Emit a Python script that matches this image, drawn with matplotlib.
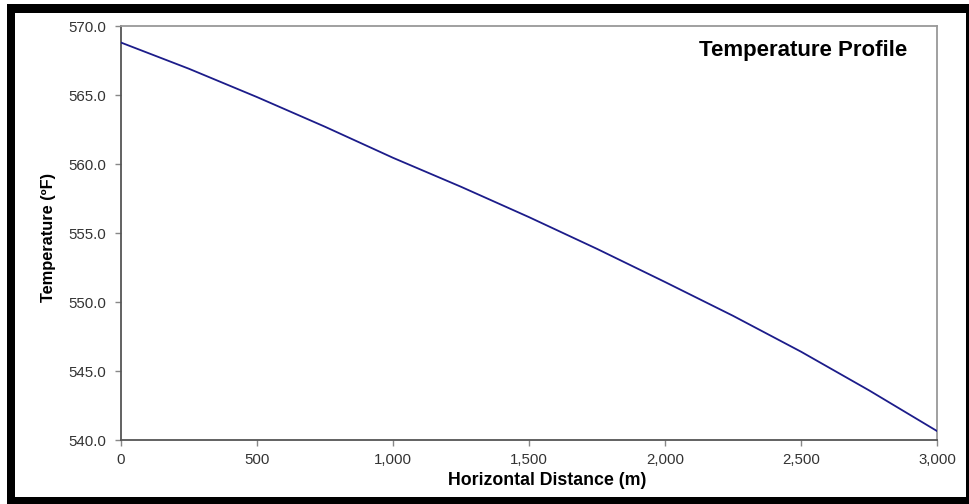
import matplotlib
matplotlib.use("Agg")
import matplotlib.pyplot as plt
from matplotlib.patches import Rectangle

# ---------- data ----------
distance_m = [0, 250, 500, 750, 1000, 1250, 1500, 1750, 2000, 2250, 2500, 2750, 3000]
temp_F = [568.8, 566.9, 564.85, 562.7, 560.45, 558.35, 556.15, 553.85, 551.45,
          549.0, 546.4, 543.6, 540.65]
x_ticks = [0, 500, 1000, 1500, 2000, 2500, 3000]
y_ticks = [540.0, 545.0, 550.0, 555.0, 560.0, 565.0, 570.0]

W, H = 969, 504
plt.rcParams["font.family"] = ["Liberation Sans", "DejaVu Sans"]
fig = plt.figure(figsize=(W / 100, H / 100), dpi=100)

# black picture frame (pixel coords -> figure fraction), kept behind the axes
def px_rect(x0, y0, x1, y1, **kw):
    return Rectangle((x0 / W, 1 - y1 / H), (x1 - x0) / W, (y1 - y0) / H,
                     transform=fig.transFigure, **kw)
fig.patches.append(px_rect(7, 4, 969, 504, facecolor="black", edgecolor="none", zorder=-10))
fig.patches.append(px_rect(15, 13, 966, 497, facecolor="white", edgecolor="none", zorder=-9))

# plot area: x 121..937, y 26..440 px
ax = fig.add_axes([121 / W, 1 - 440 / H, (937 - 121) / W, (440 - 26) / H])
ax.set_facecolor("white")
ax.plot(distance_m, temp_F, color="#1c1c8a", lw=1.3, zorder=3)

ax.set_xlim(0, 3000)
ax.set_ylim(540, 570)
ax.set_xticks(x_ticks)
ax.set_xticklabels([f"{v:,}" for v in x_ticks])
ax.set_yticks(y_ticks)
ax.set_yticklabels([f"{v:.1f}" for v in y_ticks])
ax.tick_params(axis="both", labelsize=10.8, labelcolor="#333333", color="#888888",
               length=4, width=1, direction="out")
ax.tick_params(axis="y", pad=7)
ax.tick_params(axis="x", pad=5)

for s in ("left", "bottom"):
    ax.spines[s].set_color("#555555"); ax.spines[s].set_linewidth(1.3)
for s in ("top", "right"):
    ax.spines[s].set_color("#999999"); ax.spines[s].set_linewidth(1.3)

ax.set_xlabel("Horizontal Distance (m)", fontsize=12.8, weight="bold")
ax.set_ylabel("Temperature (ºF)", fontsize=11.8, weight="bold")
ax.xaxis.set_label_coords(0.522, -0.078)
ax.yaxis.set_label_coords(-0.08, 0.489)
ax.text(0.836, 0.94, "Temperature Profile", transform=ax.transAxes,
        fontsize=16, weight="bold", ha="center", va="center")

fig.savefig("out.png", dpi=100)
